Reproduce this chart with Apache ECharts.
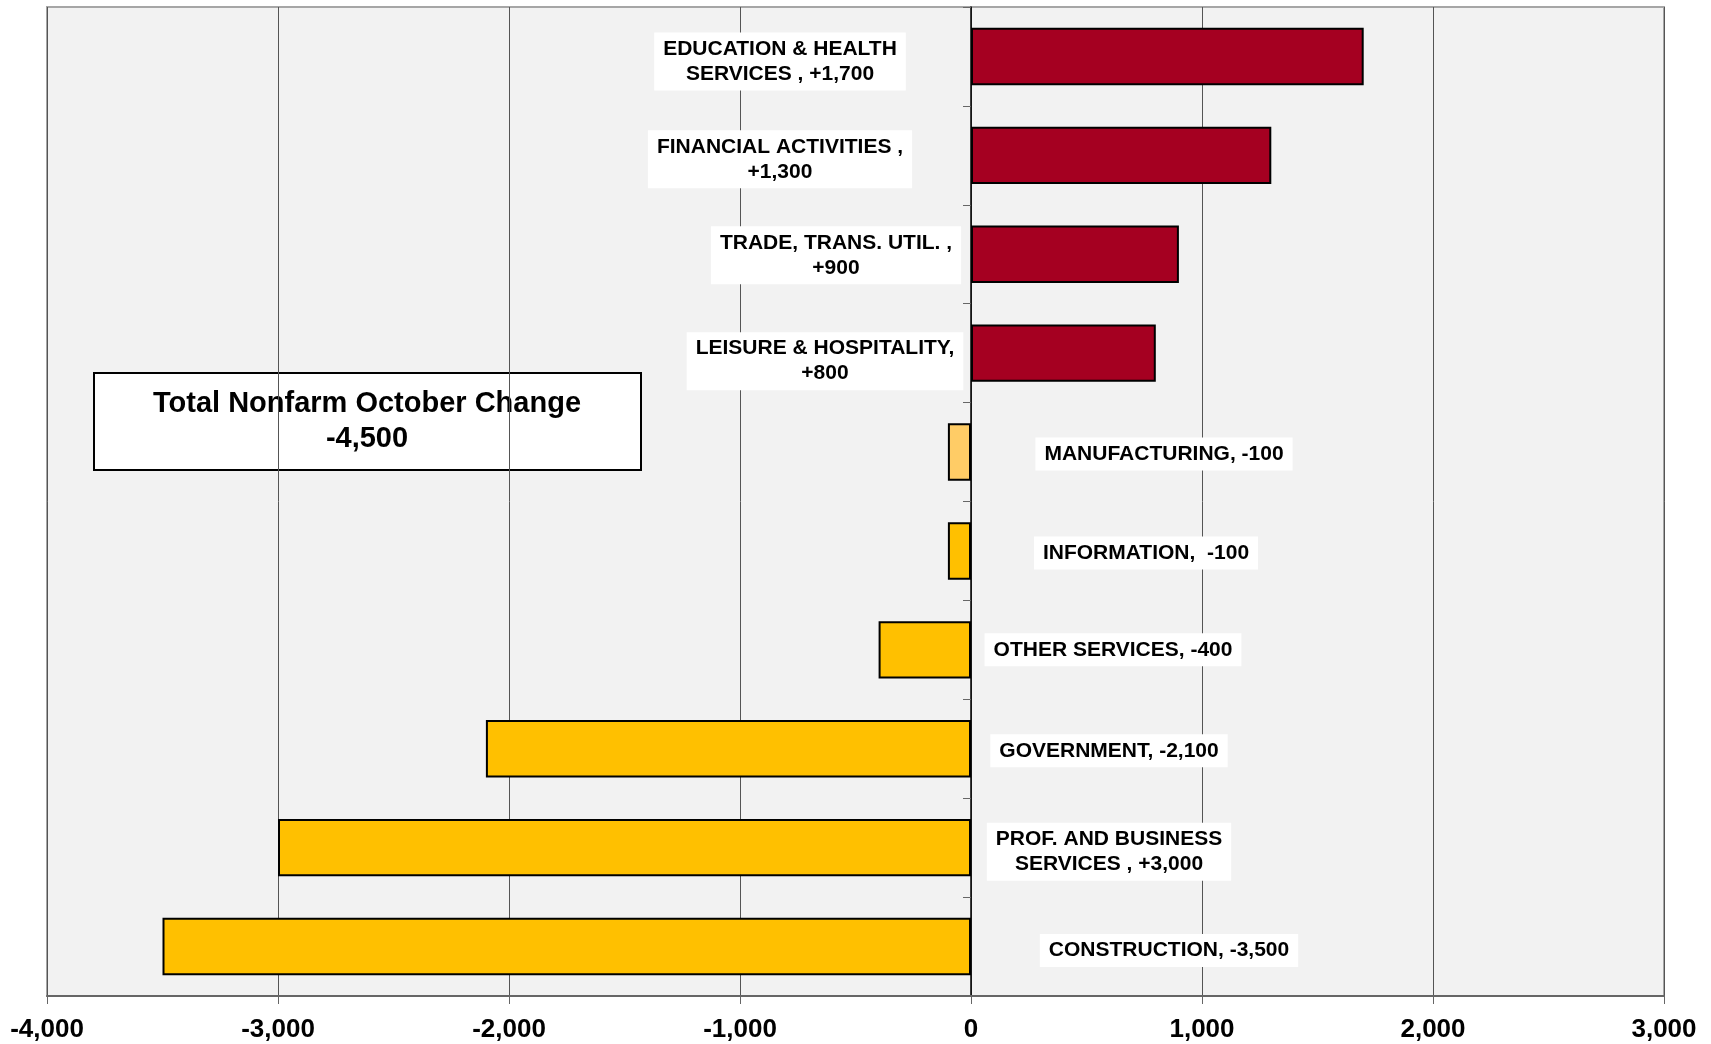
<!DOCTYPE html>
<html>
<head>
<meta charset="utf-8">
<script src="https://cdn.jsdelivr.net/npm/echarts@6/dist/echarts.min.js"></script>
<style>
html,body{margin:0;padding:0;background:#fff;}
#chart{width:1711px;height:1044px;}
</style>
</head>
<body>
<div id="chart"></div>
<script>
const categories = [
  'EDUCATION & HEALTH SERVICES',
  'FINANCIAL ACTIVITIES',
  'TRADE, TRANS. UTIL.',
  'LEISURE & HOSPITALITY',
  'MANUFACTURING',
  'INFORMATION',
  'OTHER SERVICES',
  'GOVERNMENT',
  'PROF. AND BUSINESS SERVICES',
  'CONSTRUCTION'
];
const values = [1700, 1300, 900, 800, -100, -100, -400, -2100, -3000, -3500];
const labelTexts = [
  'EDUCATION & HEALTH\nSERVICES , +1,700',
  'FINANCIAL ACTIVITIES ,\n+1,300',
  'TRADE, TRANS. UTIL. ,\n+900',
  'LEISURE & HOSPITALITY,\n+800',
  'MANUFACTURING, -100',
  'INFORMATION,  -100',
  'OTHER SERVICES, -400',
  'GOVERNMENT, -2,100',
  'PROF. AND BUSINESS\nSERVICES , +3,000',
  'CONSTRUCTION, -3,500'
];
const xTicks = { min: -4000, max: 3000, interval: 1000 };
const totalText = 'Total Nonfarm October Change\n-4,500';

// layout / style (not data)
const labelDistances = [191, 191, 135, 146, 193, 175, 142, 138, 138, 198];
const labelShiftY = [5, 4, 1, 8, 2, 2, 0, 2, 4, 4];
const posColor = '#a50021';
const negColor = '#ffc000';
const lightNegColor = '#ffcc66';
const FONT = 'Arial, "Liberation Sans", sans-serif';

const barData = values.map((v, i) => ({
  value: v,
  itemStyle: { color: i === 4 ? lightNegColor : (v >= 0 ? posColor : negColor) },
  label: {
    show: true,
    position: v >= 0 ? 'left' : 'right',
    distance: labelDistances[i],
    offset: [0, labelShiftY[i]],
    align: 'center',
    verticalAlign: 'middle',
    formatter: () => labelTexts[i]
  }
}));

const chart = echarts.init(document.getElementById('chart'));
chart.setOption({
  animation: false,
  grid: {
    left: 47, right: 47, top: 7, bottom: 48,
    show: true, backgroundColor: '#f2f2f2', borderColor: '#a6a6a6', borderWidth: 2,
    containLabel: false
  },
  xAxis: {
    type: 'value',
    min: xTicks.min, max: xTicks.max, interval: xTicks.interval,
    axisLine: { show: true, onZero: false, lineStyle: { color: '#666', width: 2 } },
    axisTick: { show: true, length: 8, lineStyle: { color: '#666', width: 1 } },
    splitLine: { show: true, lineStyle: { color: '#555', width: 1 } },
    axisLabel: {
      margin: 21,
      color: '#000', fontFamily: FONT, fontWeight: 'bold', fontSize: 26,
      formatter: v => v.toLocaleString('en-US')
    }
  },
  yAxis: {
    type: 'category',
    data: categories,
    inverse: true,
    axisLine: { show: true, onZero: true, lineStyle: { color: '#000', width: 1.5 } },
    axisTick: { show: true, length: 8, lineStyle: { color: '#666', width: 1 } },
    axisLabel: { show: false },
    splitLine: { show: false }
  },
  series: [{
    type: 'bar',
    data: barData,
    barCategoryGap: '42%',
    itemStyle: { borderColor: '#000', borderWidth: 2 },
    label: {
      color: '#000', fontFamily: FONT, fontWeight: 'bold', fontSize: 21,
      lineHeight: 25, backgroundColor: '#fff', padding: [4, 9, 4, 9]
    }
  }],
  graphic: [{
    type: 'group',
    left: 93, top: 372,
    children: [
      { type: 'rect', shape: { x: 0, y: 0, width: 547, height: 97 },
        style: { fill: '#fff', stroke: '#000', lineWidth: 2 } },
      { type: 'text', x: 273, y: 48,
        style: { text: totalText, fill: '#000', font: 'bold 29px ' + FONT,
                 align: 'center', verticalAlign: 'middle', lineHeight: 35 } }
    ]
  }]
});
</script>
</body>
</html>
